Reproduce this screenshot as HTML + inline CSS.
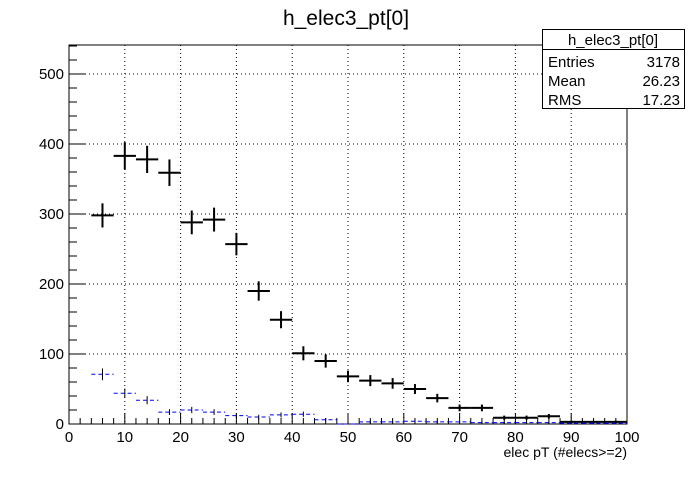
<!DOCTYPE html>
<html><head><meta charset="utf-8"><style>
body{margin:0;background:#fff;width:696px;height:472px;overflow:hidden}
svg text{font-family:"Liberation Sans",Arial,sans-serif}
</style></head><body>
<svg id="s" width="696" height="472" xmlns="http://www.w3.org/2000/svg"></svg>
<script>
const L=69,R=627,T=45,B=424;
const X=v=>L+(R-L)*v/100, Y=v=>B-v*0.7;
let h='<rect width="696" height="472" fill="#fff"/>';
h+=`<text x="346" y="25" font-size="21" text-anchor="middle">h_elec3_pt[0]</text>`;
for(let v=10;v<100;v+=10)h+=`<line x1="${X(v)}" y1="${T}" x2="${X(v)}" y2="${B}" stroke="#000" stroke-dasharray="1,3"/>`;
for(let v=100;v<=500;v+=100)h+=`<line x1="${L}" y1="${Y(v)}" x2="${R}" y2="${Y(v)}" stroke="#000" stroke-dasharray="1,3"/>`;
h+=`<rect x="${L}" y="${T}" width="${R-L}" height="${B-T}" fill="none" stroke="#000"/>`;
for(let v=0;v<=100;v+=2){const big=v%10==0;h+=`<line x1="${X(v)}" y1="${B}" x2="${X(v)}" y2="${B-(big?11:6)}" stroke="#000"/>`;}
for(let v=0;v<=100;v+=10)h+=`<text x="${X(v)}" y="442" font-size="15" text-anchor="middle">${v}</text>`;
h+=`<text x="627" y="457" font-size="14" text-anchor="end">elec pT (#elecs&gt;=2)</text>`;
for(let v=0;v<=540;v+=20){const big=v%100==0;h+=`<line x1="${L}" y1="${Y(v)}" x2="${L+(big?16:8)}" y2="${Y(v)}" stroke="#000"/>`;}
for(let v=0;v<=500;v+=100)h+=`<text x="64" y="${Y(v)+5}" font-size="15" text-anchor="end">${v}</text>`;
const bk=[298,383,378,359,288,292,257,190,149,101,90,68,62,58,50,37,23,23,9,9,11,3,3,3];
bk.forEach((n,i)=>{const c=6+4*i,e=Math.sqrt(n);
h+=`<line x1="${X(c-2)}" y1="${Y(n)}" x2="${X(c+2)}" y2="${Y(n)}" stroke="#000" stroke-width="2"/>`;
h+=`<line x1="${X(c)}" y1="${Y(n+e)}" x2="${X(c)}" y2="${Y(Math.max(0,n-e))}" stroke="#000" stroke-width="2"/>`;});
const bl=[71,44,34,17,20,17,12,10,13,14,6,0,3,3,4,3,3,2,2,2,2,1,1,1];
bl.forEach((n,i)=>{const c=6+4*i,e=Math.sqrt(n);
h+=`<line x1="${X(c-2)}" y1="${Y(n)}" x2="${X(c+2)}" y2="${Y(n)}" stroke="#00f" stroke-dasharray="4,3"/>`;
if(n>0)h+=`<line x1="${X(c)}" y1="${Y(n+e)}" x2="${X(c)}" y2="${Y(Math.max(0,n-e))}" stroke="#000"/>`;});
h+=`<rect x="542.5" y="29.5" width="142" height="79" fill="#fff" stroke="#000"/>`;
h+=`<line x1="542" y1="49.5" x2="685" y2="49.5" stroke="#000"/>`;
h+=`<text x="613" y="45" font-size="15" text-anchor="middle">h_elec3_pt[0]</text>`;
[["Entries","3178",67],["Mean","26.23",86],["RMS","17.23",105]].forEach(r=>{
h+=`<text x="548" y="${r[2]}" font-size="15">${r[0]}</text><text x="680" y="${r[2]}" font-size="15" text-anchor="end">${r[1]}</text>`;});
document.getElementById('s').innerHTML=h;
</script>
</body></html>
